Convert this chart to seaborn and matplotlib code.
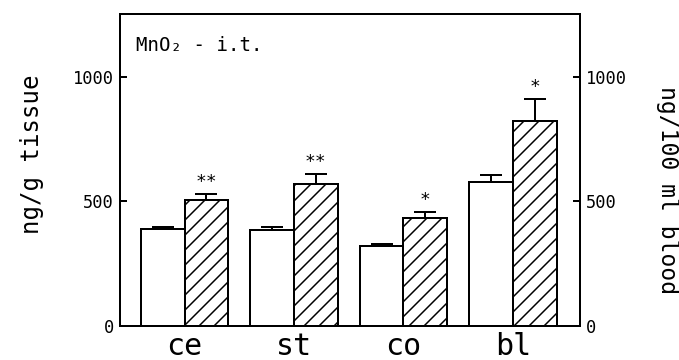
import matplotlib
matplotlib.use("Agg")
import matplotlib.pyplot as plt
import seaborn as sns
import pandas as pd

# ---- data ----
categories = ["ce", "st", "co", "bl"]
groups = ["control", "MnO2 i.t."]
control_vals = [390, 386, 322, 577]
control_err = [7, 12, 6, 31]
treated_vals = [506, 570, 432, 823]
treated_err = [24, 40, 27, 89]
stars = ["**", "**", "*", "*"]
yticks = [0, 500, 1000]

df = pd.DataFrame({
    "region": categories * 2,
    "group": [groups[0]] * 4 + [groups[1]] * 4,
    "value": control_vals + treated_vals,
})

DPI = 90


def px(v):
    """convert pixel size to points at the chosen dpi"""
    return v * 72.0 / DPI


FONT = "DejaVu Sans Mono"
plt.rcParams["font.family"] = [FONT, "DejaVu Sans"]
plt.rcParams["hatch.linewidth"] = px(1.5)
plt.rcParams["hatch.color"] = "black"

fig = plt.figure(figsize=(679 / DPI, 360 / DPI), dpi=DPI)
ax = fig.add_axes([120 / 679, 1 - 326 / 360, 460 / 679, 312 / 360])

sns.barplot(data=df, x="region", y="value", hue="group", order=categories,
            hue_order=groups, palette={groups[0]: "white", groups[1]: "white"},
            saturation=1, edgecolor="black", linewidth=px(2), errorbar=None,
            legend=False, ax=ax, zorder=2)

bar_containers = list(ax.containers)[:2]
errs = [control_err, treated_err]
for gi, cont in enumerate(bar_containers):
    for bi, bar in enumerate(cont):
        if gi == 1:
            bar.set_hatch("//")
        xc = bar.get_x() + bar.get_width() / 2
        h = bar.get_height()
        e = errs[gi][bi]
        ax.errorbar(xc, h, yerr=[[0], [e]], fmt="none", ecolor="black",
                    elinewidth=px(2), capsize=px(11.5), capthick=px(2),
                    zorder=3)
        if gi == 1:
            ax.text(xc, h + e + 12, stars[bi], ha="center", va="bottom",
                    fontsize=px(18), color="black")

ax.set_xlim(-0.59, 3.614)
ax.set_ylim(0, 1253)
ax.set_yticks(yticks)
ax.set_xlabel("")
ax.set_ylabel("")
for s in ax.spines.values():
    s.set_linewidth(px(2))
ax.tick_params(axis="y", direction="in", length=px(7), width=px(2),
               pad=px(6), labelsize=px(17))
ax.tick_params(axis="x", length=0, pad=px(6), labelsize=px(30))

ax2 = ax.twinx()
ax2.set_ylim(ax.get_ylim())
ax2.set_yticks(yticks)
ax2.tick_params(axis="y", direction="in", length=px(7), width=px(2),
                pad=px(6), labelsize=px(17))
for s in ax2.spines.values():
    s.set_linewidth(px(2))

ax.text(0.035, 0.9, "MnO₂ - i.t.", transform=ax.transAxes, fontsize=px(19),
        ha="left", va="center")

fig.text(32 / 679, 1 - 154 / 360, "ng/g tissue", rotation=90, ha="center",
         va="center", fontsize=px(24))
fig.text(668 / 679, 1 - 190 / 360, "ng/100 ml blood", rotation=270,
         ha="center", va="center", fontsize=px(23))

fig.savefig("out.png", dpi=DPI)
